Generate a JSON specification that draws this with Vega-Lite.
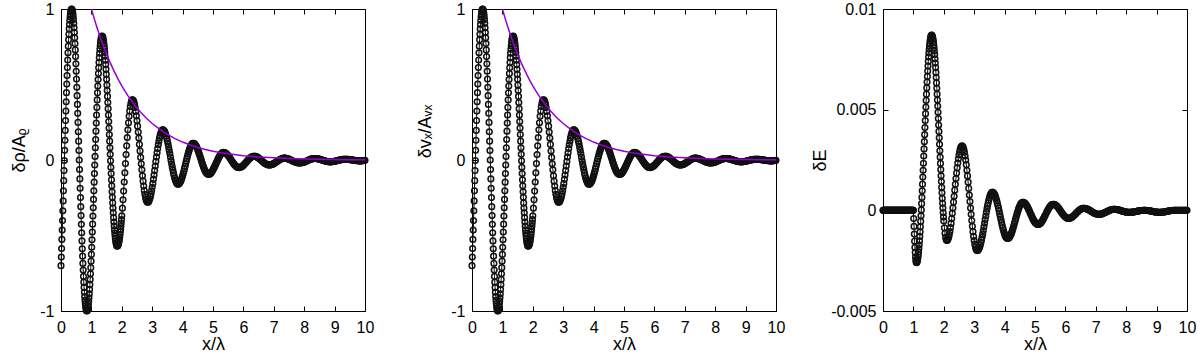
{
"$schema": "https://vega.github.io/schema/vega-lite/v6.json",
"background": "white",
"padding": {"left": 9, "top": 0, "right": 0, "bottom": 0},
"bounds": "flush",
"spacing": 107,
"config": {
  "font": "Liberation Sans",
  "view": {"stroke": "#000", "strokeWidth": 1},
  "axis": {"domain": false, "grid": false, "tickColor": "#000", "tickSize": -5, "tickWidth": 1, "labelFont": "Liberation Sans", "labelFontSize": 16, "labelColor": "#000", "labelFlush": false, "labelOverlap": false, "titleFont": "Liberation Sans", "titleFontSize": 18, "titleFontWeight": "normal", "titleColor": "#000"}
},
"datasets": {
"w": [
{"x":0,"a":-0.7,"e":0},{"x":0.01,"a":-0.643,"e":0},{"x":0.02,"a":-0.586,"e":0},{"x":0.03,"a":-0.526,"e":0},{"x":0.04,"a":-0.464,"e":0},{"x":0.05,"a":-0.401,"e":0},{"x":0.06,"a":-0.336,"e":0},{"x":0.07,"a":-0.271,"e":0},{"x":0.08,"a":-0.204,"e":0},{"x":0.09,"a":-0.137,"e":0},
{"x":0.1,"a":-0.07,"e":0},{"x":0.11,"a":-0.003,"e":0},{"x":0.12,"a":0.064,"e":0},{"x":0.13,"a":0.131,"e":0},{"x":0.14,"a":0.196,"e":0},{"x":0.15,"a":0.261,"e":0},{"x":0.16,"a":0.324,"e":0},{"x":0.17,"a":0.386,"e":0},{"x":0.18,"a":0.446,"e":0},{"x":0.19,"a":0.503,"e":0},
{"x":0.2,"a":0.559,"e":0},{"x":0.21,"a":0.612,"e":0},{"x":0.22,"a":0.662,"e":0},{"x":0.23,"a":0.71,"e":0},{"x":0.24,"a":0.754,"e":0},{"x":0.25,"a":0.796,"e":0},{"x":0.26,"a":0.833,"e":0},{"x":0.27,"a":0.868,"e":0},{"x":0.28,"a":0.898,"e":0},{"x":0.29,"a":0.925,"e":0},
{"x":0.3,"a":0.948,"e":0},{"x":0.31,"a":0.966,"e":0},{"x":0.32,"a":0.981,"e":0},{"x":0.33,"a":0.992,"e":0},{"x":0.34,"a":0.998,"e":0},{"x":0.35,"a":1,"e":0},{"x":0.36,"a":0.998,"e":0},{"x":0.37,"a":0.992,"e":0},{"x":0.38,"a":0.982,"e":0},{"x":0.39,"a":0.969,"e":0},
{"x":0.4,"a":0.951,"e":0},{"x":0.41,"a":0.93,"e":0},{"x":0.42,"a":0.905,"e":0},{"x":0.43,"a":0.876,"e":0},{"x":0.44,"a":0.844,"e":0},{"x":0.45,"a":0.809,"e":0},{"x":0.46,"a":0.771,"e":0},{"x":0.47,"a":0.729,"e":0},{"x":0.48,"a":0.685,"e":0},{"x":0.49,"a":0.637,"e":0},
{"x":0.5,"a":0.588,"e":0},{"x":0.51,"a":0.536,"e":0},{"x":0.52,"a":0.482,"e":0},{"x":0.53,"a":0.426,"e":0},{"x":0.54,"a":0.368,"e":0},{"x":0.55,"a":0.309,"e":0},{"x":0.56,"a":0.249,"e":0},{"x":0.57,"a":0.187,"e":0},{"x":0.58,"a":0.125,"e":0},{"x":0.59,"a":0.063,"e":0},
{"x":0.6,"a":0,"e":0},{"x":0.61,"a":-0.063,"e":0},{"x":0.62,"a":-0.125,"e":0},{"x":0.63,"a":-0.187,"e":0},{"x":0.64,"a":-0.249,"e":0},{"x":0.65,"a":-0.309,"e":0},{"x":0.66,"a":-0.368,"e":0},{"x":0.67,"a":-0.426,"e":0},{"x":0.68,"a":-0.482,"e":0},{"x":0.69,"a":-0.536,"e":0},
{"x":0.7,"a":-0.588,"e":0},{"x":0.71,"a":-0.637,"e":0},{"x":0.72,"a":-0.685,"e":0},{"x":0.73,"a":-0.729,"e":0},{"x":0.74,"a":-0.771,"e":0},{"x":0.75,"a":-0.809,"e":0},{"x":0.76,"a":-0.844,"e":0},{"x":0.77,"a":-0.876,"e":0},{"x":0.78,"a":-0.905,"e":0},{"x":0.79,"a":-0.93,"e":0},
{"x":0.8,"a":-0.951,"e":0},{"x":0.81,"a":-0.969,"e":0},{"x":0.82,"a":-0.982,"e":0},{"x":0.83,"a":-0.992,"e":0},{"x":0.84,"a":-0.998,"e":0},{"x":0.85,"a":-1,"e":0},{"x":0.86,"a":-0.998,"e":0},{"x":0.87,"a":-0.993,"e":0},{"x":0.88,"a":-0.984,"e":0},{"x":0.89,"a":-0.971,"e":0},
{"x":0.9,"a":-0.956,"e":0},{"x":0.91,"a":-0.936,"e":0},{"x":0.92,"a":-0.913,"e":0},{"x":0.93,"a":-0.887,"e":0},{"x":0.94,"a":-0.858,"e":0},{"x":0.95,"a":-0.826,"e":0},{"x":0.96,"a":-0.791,"e":0},{"x":0.97,"a":-0.753,"e":0},{"x":0.98,"a":-0.713,"e":0},{"x":0.99,"a":-0.67,"e":0},
{"x":1,"a":-0.625,"e":0},{"x":1.01,"a":-0.578,"e":-0.00041},{"x":1.02,"a":-0.528,"e":-0.0008},{"x":1.03,"a":-0.477,"e":-0.00118},{"x":1.04,"a":-0.425,"e":-0.00153},{"x":1.05,"a":-0.371,"e":-0.00184},{"x":1.06,"a":-0.316,"e":-0.0021},{"x":1.07,"a":-0.261,"e":-0.00232},{"x":1.08,"a":-0.204,"e":-0.00247},{"x":1.09,"a":-0.147,"e":-0.00257},
{"x":1.1,"a":-0.09,"e":-0.0026},{"x":1.11,"a":-0.033,"e":-0.00259},{"x":1.12,"a":0.024,"e":-0.00256},{"x":1.13,"a":0.081,"e":-0.0025},{"x":1.14,"a":0.136,"e":-0.00242},{"x":1.15,"a":0.191,"e":-0.00232},{"x":1.16,"a":0.245,"e":-0.0022},{"x":1.17,"a":0.298,"e":-0.00206},{"x":1.18,"a":0.348,"e":-0.0019},{"x":1.19,"a":0.398,"e":-0.00172},
{"x":1.2,"a":0.445,"e":-0.00152},{"x":1.21,"a":0.49,"e":-0.0013},{"x":1.22,"a":0.533,"e":-0.00107},{"x":1.23,"a":0.573,"e":-0.00082},{"x":1.24,"a":0.611,"e":-0.00055},{"x":1.25,"a":0.646,"e":-0.00027},{"x":1.26,"a":0.678,"e":0.00002},{"x":1.27,"a":0.707,"e":0.00033},{"x":1.28,"a":0.733,"e":0.00064},{"x":1.29,"a":0.756,"e":0.00097},
{"x":1.3,"a":0.776,"e":0.0013},{"x":1.31,"a":0.791,"e":0.00165},{"x":1.32,"a":0.804,"e":0.00199},{"x":1.33,"a":0.813,"e":0.00234},{"x":1.34,"a":0.818,"e":0.0027},{"x":1.35,"a":0.82,"e":0.00305},{"x":1.36,"a":0.819,"e":0.00341},{"x":1.37,"a":0.815,"e":0.00376},{"x":1.38,"a":0.808,"e":0.00411},{"x":1.39,"a":0.798,"e":0.00446},
{"x":1.4,"a":0.786,"e":0.0048},{"x":1.41,"a":0.771,"e":0.00513},{"x":1.42,"a":0.754,"e":0.00546},{"x":1.43,"a":0.734,"e":0.00577},{"x":1.44,"a":0.712,"e":0.00608},{"x":1.45,"a":0.687,"e":0.00637},{"x":1.46,"a":0.661,"e":0.00665},{"x":1.47,"a":0.632,"e":0.00692},{"x":1.48,"a":0.601,"e":0.00717},{"x":1.49,"a":0.568,"e":0.0074},
{"x":1.5,"a":0.534,"e":0.00762},{"x":1.51,"a":0.497,"e":0.00782},{"x":1.52,"a":0.46,"e":0.008},{"x":1.53,"a":0.421,"e":0.00816},{"x":1.54,"a":0.381,"e":0.0083},{"x":1.55,"a":0.34,"e":0.00842},{"x":1.56,"a":0.298,"e":0.00852},{"x":1.57,"a":0.255,"e":0.0086},{"x":1.58,"a":0.212,"e":0.00866},{"x":1.59,"a":0.169,"e":0.00869},
{"x":1.6,"a":0.125,"e":0.0087},{"x":1.61,"a":0.081,"e":0.00869},{"x":1.62,"a":0.038,"e":0.00866},{"x":1.63,"a":-0.005,"e":0.00861},{"x":1.64,"a":-0.048,"e":0.00854},{"x":1.65,"a":-0.09,"e":0.00845},{"x":1.66,"a":-0.131,"e":0.00834},{"x":1.67,"a":-0.171,"e":0.00821},{"x":1.68,"a":-0.21,"e":0.00807},{"x":1.69,"a":-0.247,"e":0.00791},
{"x":1.7,"a":-0.284,"e":0.00773},{"x":1.71,"a":-0.318,"e":0.00753},{"x":1.72,"a":-0.35,"e":0.00732},{"x":1.73,"a":-0.382,"e":0.00709},{"x":1.74,"a":-0.411,"e":0.00685},{"x":1.75,"a":-0.437,"e":0.0066},{"x":1.76,"a":-0.462,"e":0.00633},{"x":1.77,"a":-0.484,"e":0.00606},{"x":1.78,"a":-0.504,"e":0.00577},{"x":1.79,"a":-0.521,"e":0.00548},
{"x":1.8,"a":-0.536,"e":0.00518},{"x":1.81,"a":-0.548,"e":0.00487},{"x":1.82,"a":-0.558,"e":0.00456},{"x":1.83,"a":-0.565,"e":0.00424},{"x":1.84,"a":-0.569,"e":0.00392},{"x":1.85,"a":-0.57,"e":0.0036},{"x":1.86,"a":-0.569,"e":0.00328},{"x":1.87,"a":-0.566,"e":0.00296},{"x":1.88,"a":-0.561,"e":0.00264},{"x":1.89,"a":-0.555,"e":0.00233},
{"x":1.9,"a":-0.546,"e":0.00202},{"x":1.91,"a":-0.536,"e":0.00172},{"x":1.92,"a":-0.524,"e":0.00143},{"x":1.93,"a":-0.51,"e":0.00114},{"x":1.94,"a":-0.495,"e":0.00087},{"x":1.95,"a":-0.477,"e":0.0006},{"x":1.96,"a":-0.459,"e":0.00035},{"x":1.97,"a":-0.439,"e":0.00011},{"x":1.98,"a":-0.417,"e":-0.00012},{"x":1.99,"a":-0.394,"e":-0.00033},
{"x":2,"a":-0.37,"e":-0.00053},{"x":2.02,"a":-0.319,"e":-0.00087},{"x":2.04,"a":-0.264,"e":-0.00114},{"x":2.06,"a":-0.206,"e":-0.00134},{"x":2.08,"a":-0.146,"e":-0.00146},{"x":2.1,"a":-0.085,"e":-0.0015},{"x":2.12,"a":-0.024,"e":-0.00148},{"x":2.14,"a":0.036,"e":-0.00143},{"x":2.16,"a":0.094,"e":-0.00134},{"x":2.18,"a":0.149,"e":-0.00121},
{"x":2.2,"a":0.2,"e":-0.00105},{"x":2.22,"a":0.247,"e":-0.00086},{"x":2.24,"a":0.289,"e":-0.00065},{"x":2.26,"a":0.325,"e":-0.00041},{"x":2.28,"a":0.354,"e":-0.00015},{"x":2.3,"a":0.376,"e":0.00012},{"x":2.32,"a":0.391,"e":0.00041},{"x":2.34,"a":0.399,"e":0.0007},{"x":2.36,"a":0.399,"e":0.001},{"x":2.38,"a":0.394,"e":0.00129},
{"x":2.4,"a":0.383,"e":0.00158},{"x":2.42,"a":0.368,"e":0.00185},{"x":2.44,"a":0.347,"e":0.00211},{"x":2.46,"a":0.322,"e":0.00235},{"x":2.48,"a":0.293,"e":0.00256},{"x":2.5,"a":0.26,"e":0.00275},{"x":2.52,"a":0.224,"e":0.00291},{"x":2.54,"a":0.185,"e":0.00304},{"x":2.56,"a":0.145,"e":0.00313},{"x":2.58,"a":0.103,"e":0.00318},
{"x":2.6,"a":0.06,"e":0.0032},{"x":2.62,"a":0.017,"e":0.00318},{"x":2.64,"a":-0.025,"e":0.00312},{"x":2.66,"a":-0.065,"e":0.00302},{"x":2.68,"a":-0.104,"e":0.00288},{"x":2.7,"a":-0.14,"e":0.0027},{"x":2.72,"a":-0.173,"e":0.0025},{"x":2.74,"a":-0.202,"e":0.00226},{"x":2.76,"a":-0.227,"e":0.00199},{"x":2.78,"a":-0.248,"e":0.00171},
{"x":2.8,"a":-0.263,"e":0.0014},{"x":2.82,"a":-0.274,"e":0.00109},{"x":2.84,"a":-0.279,"e":0.00076},{"x":2.86,"a":-0.28,"e":0.00044},{"x":2.88,"a":-0.276,"e":0.00011},{"x":2.9,"a":-0.268,"e":-0.0002},{"x":2.92,"a":-0.257,"e":-0.00051},{"x":2.94,"a":-0.243,"e":-0.00079},{"x":2.96,"a":-0.225,"e":-0.00106},{"x":2.98,"a":-0.204,"e":-0.0013},
{"x":3,"a":-0.181,"e":-0.0015},{"x":3.02,"a":-0.156,"e":-0.00168},{"x":3.04,"a":-0.128,"e":-0.00182},{"x":3.06,"a":-0.1,"e":-0.00192},{"x":3.08,"a":-0.07,"e":-0.00198},{"x":3.1,"a":-0.04,"e":-0.002},{"x":3.12,"a":-0.01,"e":-0.00199},{"x":3.14,"a":0.02,"e":-0.00195},{"x":3.16,"a":0.048,"e":-0.0019},{"x":3.18,"a":0.076,"e":-0.00182},
{"x":3.2,"a":0.101,"e":-0.00172},{"x":3.22,"a":0.124,"e":-0.00161},{"x":3.24,"a":0.145,"e":-0.00147},{"x":3.26,"a":0.163,"e":-0.00133},{"x":3.28,"a":0.177,"e":-0.00117},{"x":3.3,"a":0.188,"e":-0.001},{"x":3.32,"a":0.196,"e":-0.00082},{"x":3.34,"a":0.2,"e":-0.00064},{"x":3.36,"a":0.2,"e":-0.00046},{"x":3.38,"a":0.197,"e":-0.00028},
{"x":3.4,"a":0.191,"e":-0.0001},{"x":3.42,"a":0.183,"e":0.00007},{"x":3.44,"a":0.172,"e":0.00023},{"x":3.46,"a":0.159,"e":0.00037},{"x":3.48,"a":0.143,"e":0.00051},{"x":3.5,"a":0.126,"e":0.00062},{"x":3.52,"a":0.107,"e":0.00072},{"x":3.54,"a":0.086,"e":0.0008},{"x":3.56,"a":0.065,"e":0.00085},{"x":3.58,"a":0.043,"e":0.00089},
{"x":3.6,"a":0.02,"e":0.0009},{"x":3.62,"a":-0.003,"e":0.00089},{"x":3.64,"a":-0.025,"e":0.00086},{"x":3.66,"a":-0.046,"e":0.00082},{"x":3.68,"a":-0.067,"e":0.00076},{"x":3.7,"a":-0.086,"e":0.00068},{"x":3.72,"a":-0.103,"e":0.00059},{"x":3.74,"a":-0.119,"e":0.00048},{"x":3.76,"a":-0.132,"e":0.00037},{"x":3.78,"a":-0.143,"e":0.00024},
{"x":3.8,"a":-0.151,"e":0.00011},{"x":3.82,"a":-0.157,"e":-0.00003},{"x":3.84,"a":-0.16,"e":-0.00018},{"x":3.86,"a":-0.16,"e":-0.00032},{"x":3.88,"a":-0.158,"e":-0.00047},{"x":3.9,"a":-0.153,"e":-0.00061},{"x":3.92,"a":-0.147,"e":-0.00074},{"x":3.94,"a":-0.139,"e":-0.00087},{"x":3.96,"a":-0.129,"e":-0.00098},{"x":3.98,"a":-0.117,"e":-0.00109},
{"x":4,"a":-0.104,"e":-0.00118},{"x":4.02,"a":-0.09,"e":-0.00126},{"x":4.04,"a":-0.075,"e":-0.00132},{"x":4.06,"a":-0.059,"e":-0.00136},{"x":4.08,"a":-0.042,"e":-0.00139},{"x":4.1,"a":-0.025,"e":-0.0014},{"x":4.12,"a":-0.008,"e":-0.00139},{"x":4.14,"a":0.009,"e":-0.00137},{"x":4.16,"a":0.025,"e":-0.00134},{"x":4.18,"a":0.04,"e":-0.00129},
{"x":4.2,"a":0.054,"e":-0.00123},{"x":4.22,"a":0.067,"e":-0.00116},{"x":4.24,"a":0.079,"e":-0.00107},{"x":4.26,"a":0.089,"e":-0.00098},{"x":4.28,"a":0.097,"e":-0.00088},{"x":4.3,"a":0.103,"e":-0.00078},{"x":4.32,"a":0.108,"e":-0.00067},{"x":4.34,"a":0.11,"e":-0.00056},{"x":4.36,"a":0.11,"e":-0.00044},{"x":4.38,"a":0.108,"e":-0.00033},
{"x":4.4,"a":0.105,"e":-0.00022},{"x":4.42,"a":0.1,"e":-0.00012},{"x":4.44,"a":0.094,"e":-0.00002},{"x":4.46,"a":0.087,"e":0.00007},{"x":4.48,"a":0.078,"e":0.00016},{"x":4.5,"a":0.068,"e":0.00023},{"x":4.52,"a":0.057,"e":0.00029},{"x":4.54,"a":0.045,"e":0.00034},{"x":4.56,"a":0.033,"e":0.00037},{"x":4.58,"a":0.02,"e":0.00039},
{"x":4.6,"a":0.008,"e":0.0004},{"x":4.62,"a":-0.005,"e":0.0004},{"x":4.64,"a":-0.018,"e":0.00038},{"x":4.66,"a":-0.03,"e":0.00036},{"x":4.68,"a":-0.042,"e":0.00033},{"x":4.7,"a":-0.053,"e":0.0003},{"x":4.72,"a":-0.063,"e":0.00025},{"x":4.74,"a":-0.071,"e":0.0002},{"x":4.76,"a":-0.079,"e":0.00015},{"x":4.78,"a":-0.085,"e":0.00008},
{"x":4.8,"a":-0.09,"e":0.00002},{"x":4.82,"a":-0.093,"e":-0.00005},{"x":4.84,"a":-0.095,"e":-0.00012},{"x":4.86,"a":-0.095,"e":-0.00019},{"x":4.88,"a":-0.094,"e":-0.00025},{"x":4.9,"a":-0.092,"e":-0.00032},{"x":4.92,"a":-0.088,"e":-0.00038},{"x":4.94,"a":-0.084,"e":-0.00045},{"x":4.96,"a":-0.078,"e":-0.0005},{"x":4.98,"a":-0.072,"e":-0.00055},
{"x":5,"a":-0.065,"e":-0.0006},{"x":5.02,"a":-0.057,"e":-0.00063},{"x":5.04,"a":-0.049,"e":-0.00066},{"x":5.06,"a":-0.041,"e":-0.00068},{"x":5.08,"a":-0.032,"e":-0.0007},{"x":5.1,"a":-0.023,"e":-0.0007},{"x":5.12,"a":-0.013,"e":-0.0007},{"x":5.14,"a":-0.005,"e":-0.00068},{"x":5.16,"a":0.004,"e":-0.00067},{"x":5.18,"a":0.012,"e":-0.00064},
{"x":5.2,"a":0.02,"e":-0.00061},{"x":5.22,"a":0.027,"e":-0.00057},{"x":5.24,"a":0.034,"e":-0.00052},{"x":5.26,"a":0.039,"e":-0.00047},{"x":5.28,"a":0.043,"e":-0.00041},{"x":5.3,"a":0.047,"e":-0.00036},{"x":5.32,"a":0.049,"e":-0.00029},{"x":5.34,"a":0.05,"e":-0.00023},
{"x":5.375,"a":0.049,"e":-0.00012},{"x":5.4,"a":0.048,"e":-0.00005},{"x":5.425,"a":0.045,"e":0.00003},{"x":5.45,"a":0.04,"e":0.00009},{"x":5.475,"a":0.035,"e":0.00015},{"x":5.5,"a":0.029,"e":0.0002},{"x":5.525,"a":0.023,"e":0.00025},{"x":5.55,"a":0.015,"e":0.00028},{"x":5.575,"a":0.008,"e":0.00029},{"x":5.6,"a":0,"e":0.0003},
{"x":5.625,"a":-0.008,"e":0.0003},{"x":5.65,"a":-0.015,"e":0.00028},{"x":5.675,"a":-0.023,"e":0.00026},{"x":5.7,"a":-0.029,"e":0.00023},{"x":5.725,"a":-0.035,"e":0.0002},{"x":5.75,"a":-0.04,"e":0.00016},{"x":5.775,"a":-0.045,"e":0.00011},{"x":5.8,"a":-0.048,"e":0.00006},{"x":5.825,"a":-0.049,"e":0},{"x":5.85,"a":-0.05,"e":-0.00005},
{"x":5.875,"a":-0.05,"e":-0.00011},{"x":5.9,"a":-0.048,"e":-0.00016},{"x":5.925,"a":-0.046,"e":-0.00021},{"x":5.95,"a":-0.043,"e":-0.00026},{"x":5.975,"a":-0.039,"e":-0.0003},{"x":6,"a":-0.035,"e":-0.00033},{"x":6.025,"a":-0.03,"e":-0.00036},{"x":6.05,"a":-0.024,"e":-0.00038},{"x":6.075,"a":-0.018,"e":-0.0004},{"x":6.1,"a":-0.013,"e":-0.0004},
{"x":6.125,"a":-0.007,"e":-0.0004},{"x":6.15,"a":-0.001,"e":-0.00039},{"x":6.175,"a":0.005,"e":-0.00037},{"x":6.2,"a":0.01,"e":-0.00035},{"x":6.225,"a":0.014,"e":-0.00033},{"x":6.25,"a":0.018,"e":-0.0003},{"x":6.275,"a":0.021,"e":-0.00026},{"x":6.3,"a":0.023,"e":-0.00023},{"x":6.325,"a":0.025,"e":-0.00019},{"x":6.35,"a":0.025,"e":-0.00015},
{"x":6.375,"a":0.025,"e":-0.00011},{"x":6.4,"a":0.024,"e":-0.00007},{"x":6.425,"a":0.022,"e":-0.00004},{"x":6.45,"a":0.02,"e":0},{"x":6.475,"a":0.017,"e":0.00003},{"x":6.5,"a":0.013,"e":0.00005},{"x":6.525,"a":0.009,"e":0.00007},{"x":6.55,"a":0.005,"e":0.00009},{"x":6.575,"a":0.001,"e":0.0001},{"x":6.6,"a":-0.004,"e":0.0001},
{"x":6.625,"a":-0.009,"e":0.0001},{"x":6.65,"a":-0.013,"e":0.00009},{"x":6.675,"a":-0.017,"e":0.00008},{"x":6.7,"a":-0.021,"e":0.00007},{"x":6.725,"a":-0.025,"e":0.00006},{"x":6.75,"a":-0.027,"e":0.00004},{"x":6.775,"a":-0.03,"e":0.00002},{"x":6.8,"a":-0.032,"e":0},{"x":6.825,"a":-0.033,"e":-0.00003},{"x":6.85,"a":-0.033,"e":-0.00005},
{"x":6.875,"a":-0.033,"e":-0.00007},{"x":6.9,"a":-0.032,"e":-0.0001},{"x":6.925,"a":-0.031,"e":-0.00012},{"x":6.95,"a":-0.029,"e":-0.00014},{"x":6.975,"a":-0.026,"e":-0.00016},{"x":7,"a":-0.024,"e":-0.00017},{"x":7.025,"a":-0.021,"e":-0.00018},{"x":7.05,"a":-0.017,"e":-0.00019},{"x":7.075,"a":-0.014,"e":-0.0002},{"x":7.1,"a":-0.011,"e":-0.0002},
{"x":7.125,"a":-0.007,"e":-0.0002},{"x":7.15,"a":-0.004,"e":-0.00019},{"x":7.175,"a":0,"e":-0.00019},{"x":7.2,"a":0.003,"e":-0.00018},{"x":7.225,"a":0.005,"e":-0.00016},{"x":7.25,"a":0.008,"e":-0.00015},{"x":7.275,"a":0.01,"e":-0.00013},{"x":7.3,"a":0.011,"e":-0.00011},{"x":7.325,"a":0.012,"e":-0.0001},{"x":7.35,"a":0.012,"e":-0.00008},
{"x":7.375,"a":0.012,"e":-0.00005},{"x":7.4,"a":0.011,"e":-0.00004},{"x":7.425,"a":0.01,"e":-0.00002},{"x":7.45,"a":0.009,"e":0},{"x":7.475,"a":0.007,"e":0.00001},{"x":7.5,"a":0.005,"e":0.00003},{"x":7.525,"a":0.003,"e":0.00004},{"x":7.55,"a":0.001,"e":0.00004},{"x":7.575,"a":-0.002,"e":0.00005},{"x":7.6,"a":-0.004,"e":0.00005},
{"x":7.625,"a":-0.007,"e":0.00005},{"x":7.65,"a":-0.009,"e":0.00005},{"x":7.675,"a":-0.011,"e":0.00004},{"x":7.7,"a":-0.013,"e":0.00004},{"x":7.725,"a":-0.015,"e":0.00003},{"x":7.75,"a":-0.017,"e":0.00002},{"x":7.775,"a":-0.018,"e":0.00001},{"x":7.8,"a":-0.019,"e":0},{"x":7.825,"a":-0.02,"e":-0.00001},{"x":7.85,"a":-0.02,"e":-0.00003},
{"x":7.875,"a":-0.02,"e":-0.00004},{"x":7.9,"a":-0.019,"e":-0.00005},{"x":7.925,"a":-0.018,"e":-0.00006},{"x":7.95,"a":-0.017,"e":-0.00007},{"x":7.975,"a":-0.016,"e":-0.00008},{"x":8,"a":-0.014,"e":-0.00009},{"x":8.025,"a":-0.012,"e":-0.00009},{"x":8.05,"a":-0.01,"e":-0.0001},{"x":8.075,"a":-0.007,"e":-0.0001},{"x":8.1,"a":-0.005,"e":-0.0001},
{"x":8.125,"a":-0.003,"e":-0.0001},{"x":8.15,"a":0,"e":-0.0001},{"x":8.175,"a":0.002,"e":-0.00009},{"x":8.2,"a":0.004,"e":-0.00009},{"x":8.225,"a":0.006,"e":-0.00009},{"x":8.25,"a":0.007,"e":-0.00008},{"x":8.275,"a":0.008,"e":-0.00007},{"x":8.3,"a":0.009,"e":-0.00007},{"x":8.325,"a":0.01,"e":-0.00006},{"x":8.35,"a":0.01,"e":-0.00005},
{"x":8.375,"a":0.01,"e":-0.00004},{"x":8.4,"a":0.009,"e":-0.00003},{"x":8.425,"a":0.009,"e":-0.00003},{"x":8.45,"a":0.008,"e":-0.00002},{"x":8.475,"a":0.007,"e":-0.00001},{"x":8.5,"a":0.005,"e":-0.00001},{"x":8.525,"a":0.004,"e":-0.00001},{"x":8.55,"a":0.002,"e":0},{"x":8.575,"a":0.001,"e":0},{"x":8.6,"a":-0.001,"e":0},
{"x":8.625,"a":-0.003,"e":0},{"x":8.65,"a":-0.004,"e":0},{"x":8.675,"a":-0.006,"e":-0.00001},{"x":8.7,"a":-0.007,"e":-0.00001},{"x":8.725,"a":-0.009,"e":-0.00001},{"x":8.75,"a":-0.01,"e":-0.00002},{"x":8.775,"a":-0.011,"e":-0.00003},{"x":8.8,"a":-0.011,"e":-0.00003},{"x":8.825,"a":-0.012,"e":-0.00004},{"x":8.85,"a":-0.012,"e":-0.00005},
{"x":8.875,"a":-0.012,"e":-0.00006},{"x":8.9,"a":-0.012,"e":-0.00007},{"x":8.925,"a":-0.011,"e":-0.00007},{"x":8.95,"a":-0.01,"e":-0.00008},{"x":8.975,"a":-0.01,"e":-0.00009},{"x":9,"a":-0.009,"e":-0.00009},{"x":9.025,"a":-0.007,"e":-0.00009},{"x":9.05,"a":-0.006,"e":-0.0001},{"x":9.075,"a":-0.005,"e":-0.0001},{"x":9.1,"a":-0.004,"e":-0.0001},
{"x":9.125,"a":-0.002,"e":-0.0001},{"x":9.15,"a":-0.001,"e":-0.0001},{"x":9.175,"a":0,"e":-0.00009},{"x":9.2,"a":0.001,"e":-0.00009},{"x":9.225,"a":0.003,"e":-0.00009},{"x":9.25,"a":0.003,"e":-0.00008},{"x":9.275,"a":0.004,"e":-0.00007},{"x":9.3,"a":0.005,"e":-0.00007},{"x":9.325,"a":0.005,"e":-0.00006},{"x":9.35,"a":0.005,"e":-0.00005},
{"x":9.375,"a":0.005,"e":-0.00004},{"x":9.4,"a":0.005,"e":-0.00003},{"x":9.425,"a":0.004,"e":-0.00003},{"x":9.45,"a":0.004,"e":-0.00002},{"x":9.475,"a":0.003,"e":-0.00001},{"x":9.5,"a":0.003,"e":-0.00001},{"x":9.525,"a":0.002,"e":-0.00001},{"x":9.55,"a":0.001,"e":0},{"x":9.575,"a":0,"e":0},{"x":9.6,"a":-0.001,"e":0},
{"x":9.625,"a":-0.001,"e":0},{"x":9.65,"a":-0.002,"e":0},{"x":9.675,"a":-0.003,"e":0},{"x":9.7,"a":-0.004,"e":0},{"x":9.725,"a":-0.004,"e":0},{"x":9.75,"a":-0.005,"e":0},{"x":9.775,"a":-0.005,"e":0},{"x":9.8,"a":-0.006,"e":0},{"x":9.825,"a":-0.006,"e":0},{"x":9.85,"a":-0.006,"e":0},
{"x":9.875,"a":-0.006,"e":0},{"x":9.9,"a":-0.005,"e":0},{"x":9.925,"a":-0.005,"e":0},{"x":9.95,"a":-0.004,"e":0},{"x":9.975,"a":-0.003,"e":0},{"x":10,"a":-0.002,"e":0}
],
"env": [
{"x":1,"y":1},{"x":1.1,"y":0.9315},{"x":1.2,"y":0.8676},{"x":1.3,"y":0.8082},{"x":1.4,"y":0.7528},{"x":1.5,"y":0.7012},{"x":1.6,"y":0.6531},{"x":1.7,"y":0.6084},{"x":1.8,"y":0.5667},{"x":1.9,"y":0.5278},
{"x":2,"y":0.4916},{"x":2.1,"y":0.458},{"x":2.2,"y":0.4265},{"x":2.3,"y":0.3973},{"x":2.4,"y":0.3701},{"x":2.5,"y":0.3447},{"x":2.6,"y":0.3211},{"x":2.7,"y":0.2991},{"x":2.8,"y":0.2786},{"x":2.9,"y":0.2595},
{"x":3,"y":0.2417},{"x":3.25,"y":0.2024},{"x":3.5,"y":0.1695},{"x":3.75,"y":0.1419},{"x":4,"y":0.1188},{"x":4.25,"y":0.0995},{"x":4.5,"y":0.0833},{"x":4.75,"y":0.0698},{"x":5,"y":0.0584},{"x":5.25,"y":0.0489},
{"x":5.5,"y":0.041},{"x":5.75,"y":0.0343},{"x":6,"y":0.0287},{"x":6.5,"y":0.0201},{"x":7,"y":0.0141},{"x":7.5,"y":0.0099},{"x":8,"y":0.0069},{"x":8.5,"y":0.0049},{"x":9,"y":0.0034},{"x":9.5,"y":0.0024},{"x":10,"y":0.0017}
]
},
"hconcat": [
{
 "width": 304, "height": 302,
 "layer": [
  {"data": {"name": "w"}, "mark": {"type": "line", "color": "#000", "strokeWidth": 1},
   "encoding": {
    "x": {"field": "x", "type": "quantitative", "scale": {"domain": [0, 10], "nice": false}, "axis": {"orient": "bottom", "values": [0,1,2,3,4,5,6,7,8,9,10], "title": "x/λ", "labelPadding": 13, "titlePadding": 0}},
    "y": {"field": "a", "type": "quantitative", "scale": {"domain": [-1, 1], "nice": false}, "axis": {"orient": "left", "values": [-1,0,1], "labelExpr": "toString(datum.value)", "labelPadding": 12, "title": "δρ/Aᵨ", "titleX": -42, "titleY": 141, "titleBaseline": "middle", "titleAlign": "center", "titleAngle": 270}}
   }},
  {"data": {"name": "w"}, "mark": {"type": "point", "shape": "circle", "filled": false, "color": "#111", "strokeWidth": 1.5, "size": 32, "opacity": 1},
   "encoding": {
    "x": {"field": "x", "type": "quantitative", "scale": {"domain": [0, 10], "nice": false}, "axis": {"orient": "top", "values": [0,1,2,3,4,5,6,7,8,9,10], "labels": false, "title": null}},
    "y": {"field": "a", "type": "quantitative", "scale": {"domain": [-1, 1], "nice": false}, "axis": {"orient": "right", "values": [-1,0,1], "labels": false, "title": null}}
   }},
  {"data": {"name": "env"}, "mark": {"type": "line", "color": "#9400D3", "strokeWidth": 1.5},
   "encoding": {
    "x": {"field": "x", "type": "quantitative", "scale": {"domain": [0, 10], "nice": false}, "axis": null},
    "y": {"field": "y", "type": "quantitative", "scale": {"domain": [-1, 1], "nice": false}, "axis": null}
   }}
 ]
},
{
 "width": 304, "height": 302,
 "layer": [
  {"data": {"name": "w"}, "mark": {"type": "line", "color": "#000", "strokeWidth": 1},
   "encoding": {
    "x": {"field": "x", "type": "quantitative", "scale": {"domain": [0, 10], "nice": false}, "axis": {"orient": "bottom", "values": [0,1,2,3,4,5,6,7,8,9,10], "title": "x/λ", "labelPadding": 13, "titlePadding": 0}},
    "y": {"field": "a", "type": "quantitative", "scale": {"domain": [-1, 1], "nice": false}, "axis": {"orient": "left", "values": [-1,0,1], "labelExpr": "toString(datum.value)", "labelPadding": 12, "title": "δvₓ/Aᵥₓ", "titleX": -47, "titleY": 122, "titleBaseline": "middle", "titleAlign": "center", "titleAngle": 270}}
   }},
  {"data": {"name": "w"}, "mark": {"type": "point", "shape": "circle", "filled": false, "color": "#111", "strokeWidth": 1.5, "size": 32, "opacity": 1},
   "encoding": {
    "x": {"field": "x", "type": "quantitative", "scale": {"domain": [0, 10], "nice": false}, "axis": {"orient": "top", "values": [0,1,2,3,4,5,6,7,8,9,10], "labels": false, "title": null}},
    "y": {"field": "a", "type": "quantitative", "scale": {"domain": [-1, 1], "nice": false}, "axis": {"orient": "right", "values": [-1,0,1], "labels": false, "title": null}}
   }},
  {"data": {"name": "env"}, "mark": {"type": "line", "color": "#9400D3", "strokeWidth": 1.5},
   "encoding": {
    "x": {"field": "x", "type": "quantitative", "scale": {"domain": [0, 10], "nice": false}, "axis": null},
    "y": {"field": "y", "type": "quantitative", "scale": {"domain": [-1, 1], "nice": false}, "axis": null}
   }}
 ]
},
{
 "width": 304, "height": 302,
 "layer": [
  {"data": {"name": "w"}, "mark": {"type": "line", "color": "#000", "strokeWidth": 1},
   "encoding": {
    "x": {"field": "x", "type": "quantitative", "scale": {"domain": [0, 10], "nice": false}, "axis": {"orient": "bottom", "values": [0,1,2,3,4,5,6,7,8,9,10], "title": "x/λ", "labelPadding": 13, "titlePadding": 0}},
    "y": {"field": "e", "type": "quantitative", "scale": {"domain": [-0.005, 0.01], "nice": false}, "axis": {"orient": "left", "values": [-0.005,0,0.005,0.01], "labelExpr": "toString(datum.value)", "labelPadding": 12, "title": "δE", "titleX": -63, "titleY": 151, "titleBaseline": "middle", "titleAlign": "center", "titleAngle": 270}}
   }},
  {"data": {"name": "w"}, "mark": {"type": "point", "shape": "circle", "filled": false, "color": "#111", "strokeWidth": 1.5, "size": 32, "opacity": 1},
   "encoding": {
    "x": {"field": "x", "type": "quantitative", "scale": {"domain": [0, 10], "nice": false}, "axis": {"orient": "top", "values": [0,1,2,3,4,5,6,7,8,9,10], "labels": false, "title": null}},
    "y": {"field": "e", "type": "quantitative", "scale": {"domain": [-0.005, 0.01], "nice": false}, "axis": {"orient": "right", "values": [-0.005,0,0.005,0.01], "labels": false, "title": null}}
   }}
 ]
}
]
}
